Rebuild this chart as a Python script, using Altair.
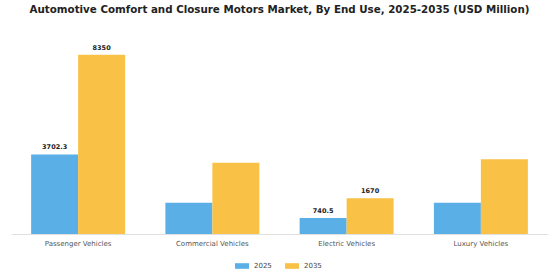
import altair as alt
import pandas as pd

categories = ["Passenger Vehicles", "Commercial Vehicles", "Electric Vehicles", "Luxury Vehicles"]
years = ["2025", "2035"]
values_2025 = [3702.3, 1460, 740.5, 1460]
values_2035 = [8350, 3320, 1670, 3480]
labels_2025 = ["3702.3", "", "740.5", ""]
labels_2035 = ["8350", "", "1670", ""]

rows = []
for i, c in enumerate(categories):
    rows.append({"cat": c, "year": "2025", "value": values_2025[i], "label": labels_2025[i]})
    rows.append({"cat": c, "year": "2035", "value": values_2035[i], "label": labels_2035[i]})
df = pd.DataFrame(rows)

FONT = "DejaVu Sans"

x = alt.X("cat:N", sort=categories, title=None,
          scale=alt.Scale(paddingInner=0.3, paddingOuter=0.15),
          axis=alt.Axis(labelAngle=0, labelFont=FONT, labelFontSize=7, labelColor="#555555",
                        domainColor="#e0e0e0", domainWidth=1, ticks=False, labelPadding=5))
y = alt.Y("value:Q", title=None, scale=alt.Scale(domain=[0, 9034], nice=False),
          axis=None)
xoff = alt.XOffset("year:N", sort=years, scale=alt.Scale(paddingInner=0, paddingOuter=0))

bars = alt.Chart(df).mark_bar().encode(
    x=x, y=y, xOffset=xoff,
    color=alt.Color("year:N", sort=years,
                    scale=alt.Scale(domain=years, range=["#5aafe6", "#f9c146"]),
                    legend=alt.Legend(title=None, orient="none", direction="horizontal",
                                      legendX=224, legendY=219,
                                      symbolType="M-1,-0.4L1,-0.4L1,0.4L-1,0.4Z",
                                      symbolSize=196, symbolStrokeWidth=0,
                                      labelFont=FONT, labelFontSize=7, labelColor="#444444",
                                      columnPadding=13, labelOffset=5))
)

text = alt.Chart(df).mark_text(baseline="bottom", dy=-4, font=FONT, fontSize=6.5,
                               fontWeight="bold", color="#222222").encode(
    x=x, y=y, xOffset=xoff, text="label:N"
)

chart = (bars + text).properties(
    width=537, height=194,
    title=alt.TitleParams("Automotive Comfort and Closure Motors Market, By End Use, 2025-2035 (USD Million)",
                          font=FONT, fontSize=10.3, fontWeight="bold", color="#222222",
                          anchor="middle", offset=25),
    autosize=alt.AutoSizeParams(type="none"),
    padding={"left": 11, "top": 40, "right": 12, "bottom": 46},
).configure(background="white", view=alt.ViewConfig(stroke=None))

chart.save("out.html", embed_options={"renderer": "svg", "actions": False})
